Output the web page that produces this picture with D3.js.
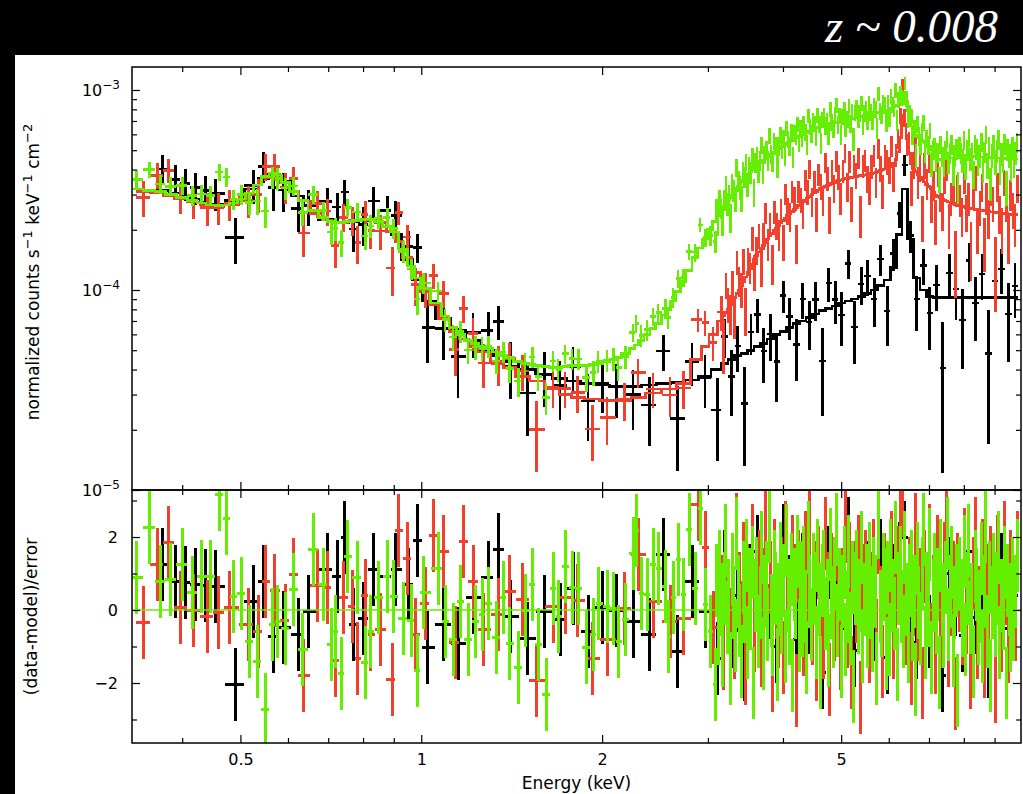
<!DOCTYPE html>
<html>
<head>
<meta charset="utf-8">
<script src="https://cdn.jsdelivr.net/npm/d3@7"></script>
<style>
  html, body { margin: 0; padding: 0; background: #000; }
  svg { display: block; }
</style>
</head>
<body>
<svg id="chart" width="1023" height="794"></svg>
<script>
// ---- Spectral data: bin centre energy (keV), model (1e-4 counts/s/keV/cm2),
// ---- residual (data-model)/error, and 1-sigma error in percent of the model.

const blackE = [
  0.3707,0.3898,0.4049,0.4207,0.4371,0.4543,0.4903,0.5254,0.5459,0.5672,
  0.5894,0.6243,0.6486,0.6976,0.7247,0.7445,0.7706,0.8007,0.8320,0.8778,
  0.9052,0.9514,0.9848,1.0233,
  1.088,1.152,1.220,1.293,1.343,1.407,1.501,1.602,1.703,1.790,
  1.896,2.001,2.111,2.253,2.396,2.528,2.667,2.824,2.968,3.109,
  3.20,3.281,3.364,3.449,3.536,3.625,3.716,3.810,3.906,4.004,
  4.105,4.209,4.315,4.424,4.535,4.650,4.767,4.887,5.010,5.137,
  5.266,5.399,5.535,5.675,5.818,5.965,6.115,6.25,6.38,6.52,
  6.68,6.85,7.02,7.20,7.38,7.57,7.76,7.96,8.16,8.37,
  8.58,8.80,9.02,9.25,9.49,9.73
];
const blackModel = [
  3.15,3.05,2.95,2.85,2.75,2.68,2.8,3.2,3.6,3.8,
  3.5,2.95,2.65,2.25,2.18,2.18,2.2,2.23,2.24,2.08,
  1.9,1.42,1.12,0.88,
  0.72,0.63,0.56,0.5,0.47,0.44,0.4,0.38,0.36,0.35,
  0.34,0.335,0.33,0.33,0.335,0.34,0.345,0.355,0.37,0.4,
  0.43,0.45,0.47,0.48,0.5,0.52,0.54,0.57,0.6,0.62,
  0.65,0.68,0.7,0.73,0.76,0.79,0.81,0.83,0.86,0.88,
  0.9,0.93,0.96,1.0,1.05,1.12,1.3,1.9,3.2,1.8,
  1.15,1.0,0.93,0.92,0.92,0.92,0.92,0.92,0.92,0.92,
  0.92,0.92,0.92,0.92,0.92,0.92
];
const blackRes = [
  1.26,0.79,0.74,0.69,0.68,0.65,-2.05,0.22,0.77,-0.72,
  -0.49,-0.68,-0.04,1.1,0.92,1.99,-0.4,-0.22,1.1,0.92,
  1.1,0.69,1.9,-1.04,
  -0.4,-0.93,0.35,0.88,1.67,-0.17,-0.79,-0.04,-0.26,0.6,
  -0.6,0.07,-0.02,-0.31,-0.68,1.52,-1.13,0.79,-0.04,-1.33,
  1.2,-0.6,0.4,-1.5,0.8,1.6,-0.3,0.2,-1.0,1.9,
  0.5,-0.8,1.1,-0.2,0.7,-1.7,1.3,0.3,-0.5,2.1,
  -1.1,0.6,0.9,-0.4,1.5,-1.3,0.8,1.4,2.0,0.2,
  -0.9,1.2,-0.6,0.5,-1.8,1.0,0.3,-0.7,1.6,-0.2,
  0.9,-1.4,0.6,1.1,-0.5,0.4
];
const blackErr = [
  22,21,21,21,21,21,17,20,20,20,
  20,20,20,21,21,21,21,21,22,22,
  22,23,24,25,
  27,28,28,29,29,30,30,30,30,30,
  30,30,30,30,30,30,30,30,29,28,
  30,30,29,29,29,28,28,28,27,27,
  27,27,26,26,26,26,26,26,26,26,
  25,25,25,25,24,23,21,19,16,19,
  24,27,29,30,31,32,33,33,33,33,
  34,34,34,35,35,35
];

const redE = [
  0.3447,0.3637,0.3793,0.3972,0.4174,0.4405,0.4595,0.4792,0.5153,0.5355,
  0.5501,0.5694,0.5939,0.6124,0.6364,0.6714,0.6976,0.7192,0.7416,0.7677,
  0.7823,0.8069,0.8225,0.8546,0.8949,0.9156,0.9478,0.9773,1.0154,
  1.047,1.088,1.139,1.175,1.220,1.268,1.343,1.401,1.473,1.554,
  1.658,1.736,1.818,1.926,2.039,2.177,2.296,2.432,2.596,2.729,
  2.890,2.968,3.061,
  3.160,3.187,3.214,3.241,3.269,3.297,3.325,3.353,3.381,3.410,
  3.439,3.468,3.498,3.527,3.557,3.588,3.618,3.649,3.680,3.711,
  3.743,3.775,3.807,3.839,3.872,3.904,3.938,3.971,4.005,4.039,
  4.073,4.108,4.143,4.178,4.213,4.249,4.285,4.322,4.358,4.395,
  4.433,4.471,4.509,4.547,4.586,4.625,4.664,4.704,4.744,4.784,
  4.825,4.866,4.907,4.949,4.991,5.033,5.076,5.119,5.163,5.207,
  5.251,5.296,5.341,5.386,5.432,5.478,5.525,5.572,5.619,5.667,
  5.714,5.763,5.812,5.861,5.911,5.961,6.012,6.063,6.115,6.167,
  6.219,6.272,6.325,6.379,6.433,6.488,6.543,6.599,6.655,6.711,
  6.768,6.826,6.884,6.942,7.001,7.061,7.121,7.181,7.242,7.304,
  7.366,7.429,7.492,7.555,7.620,7.684,7.750,7.816,7.882,7.949,
  8.016,8.085,8.153,8.223,8.293,8.363,8.434,8.506,8.578,8.651,
  8.724,8.798,8.873,8.949,9.025,9.102,9.179,9.257,9.336,9.415,
  9.495,9.576,9.657,9.739,9.822
];
const redModel = [
  3.1,3.05,2.97,2.87,2.76,2.66,2.62,2.66,3.0,3.35,
  3.65,3.8,3.45,3.1,2.78,2.42,2.24,2.18,2.18,2.2,
  2.22,2.24,2.24,2.18,1.96,1.75,1.45,1.22,0.98,
  0.84,0.72,0.62,0.57,0.52,0.49,0.44,0.41,0.37,0.35,
  0.32,0.30,0.29,0.285,0.28,0.28,0.29,0.305,0.32,0.34,
  0.45,0.52,0.6,
  0.70,0.74,0.77,0.80,0.84,0.88,0.92,0.96,1.0,1.05,
  1.1,1.16,1.22,1.28,1.35,1.42,1.49,1.55,1.61,1.67,
  1.73,1.8,1.86,1.92,1.98,2.04,2.1,2.16,2.22,2.29,
  2.35,2.41,2.47,2.53,2.59,2.65,2.7,2.76,2.82,2.88,
  2.94,3.0,3.06,3.11,3.16,3.21,3.26,3.3,3.34,3.38,
  3.41,3.45,3.48,3.52,3.55,3.57,3.6,3.62,3.64,3.66,
  3.68,3.7,3.71,3.73,3.74,3.76,3.78,3.8,3.82,3.85,
  3.88,3.91,3.95,3.99,4.03,4.07,4.12,4.2,4.32,4.5,
  4.9,5.8,7.5,6.7,5.7,4.8,4.3,4.05,3.9,3.75,
  3.65,3.55,3.46,3.38,3.3,3.2,3.08,2.98,2.93,2.88,
  2.84,2.81,2.78,2.75,2.72,2.7,2.67,2.65,2.63,2.62,
  2.6,2.58,2.57,2.56,2.54,2.53,2.52,2.51,2.5,2.49,
  2.48,2.47,2.46,2.45,2.44,2.44,2.43,2.42,2.41,2.41,
  2.4,2.39,2.38,2.38,2.37
];
const redRes = [
  -0.34,1.26,1.86,0.07,-0.02,-0.17,-0.06,0.08,-0.4,-0.6,
  0.79,0.53,-0.29,0.97,-1.8,0.68,0.63,-1.39,0.35,0.1,
  -1.32,0.4,-0.68,-0.54,-1.91,2.17,1.42,-0.68,0.17,
  2.05,1.61,-0.9,1.88,0.77,-0.54,-0.13,0.51,0.28,-1.94,
  0.1,0.33,0.26,-1.32,-0.81,0.05,1.52,0.24,-0.31,-0.22,
  2.89,1.7,-0.49,
  0.5,-1.2,1.8,0.3,-0.4,1.1,-0.9,2.2,0.6,-0.2,
  1.4,-1.6,0.8,0.1,1.9,-0.7,0.4,1.2,-1.1,0.7,
  2.4,-0.3,0.9,-1.8,1.5,0.2,-0.6,1.0,-1.3,2.0,
  0.4,-0.2,1.6,0.8,-2.2,1.2,0.3,-0.8,1.7,0.5,
  2.5,-0.5,0.9,-1.5,1.3,0.2,-0.9,2.1,0.6,-1.9,
  1.1,-0.4,1.8,0.3,-1.2,0.7,2.3,-0.6,1.4,-1.7,
  0.9,0.1,1.6,-2.4,0.8,1.2,-0.3,-1.0,0.6,1.5,
  -0.7,2.0,0.2,-1.4,1.1,0.5,-0.2,1.7,-0.9,0.4,
  1.3,2.4,3.0,0.8,-0.5,1.0,-1.6,0.3,2.2,-0.4,
  0.7,-2.0,1.2,0.1,1.9,-0.8,0.5,-1.3,1.6,0.2,
  -0.6,1.4,2.3,-1.1,0.3,0.9,-2.3,1.1,0.4,-0.5,
  1.8,-0.2,0.6,-1.7,1.0,2.1,-0.9,0.2,1.5,-1.4,
  0.8,-0.3,1.3,0.5,-2.1,1.6,0.0,-0.7,2.0,0.6,
  -1.0,1.2,0.3,-0.4,1.7
];
const redErr = [
  19,18,18,18,18,18,18,18,17,17,
  17,17,17,17,17,17,17,17,17,17,
  17,17,17,18,18,18,19,19,20,
  20,21,21,22,22,22,22,22,22,22,
  22,22,22,22,22,22,22,21,21,21,
  20,19,18,
  22,22,21,21,21,20,20,20,19,19,
  19,19,18,18,18,18,17,17,17,17,
  17,17,16,16,16,16,16,16,16,16,
  16,16,16,16,15,15,15,15,15,15,
  15,15,15,15,15,15,15,15,15,15,
  15,15,15,15,15,15,15,15,15,15,
  15,15,15,15,15,15,15,15,15,15,
  15,15,15,15,15,15,15,15,15,14,
  13,12,13,11,12,14,15,16,16,17,
  17,17,18,18,18,18,19,19,19,19,
  19,20,20,20,20,20,20,20,20,20,
  20,20,21,21,21,21,21,21,21,21,
  21,21,22,22,22,22,22,22,22,22,
  22,22,22,22,22
];

const greenE = [
  0.3356,0.3527,0.3679,0.3824,0.4003,0.4159,0.4304,0.4455,0.4612,0.4737,
  0.4865,0.5017,0.5173,0.5335,0.5501,0.5650,0.5759,0.5939,0.6124,0.6339,
  0.6612,0.6869,0.7082,0.7192,0.7359,0.7530,0.7823,0.8069,0.8225,0.8481,
  0.8778,0.8983,0.9333,0.9624,0.9848,1.0077,
  1.067,1.096,1.130,1.161,1.197,1.230,1.263,1.293,1.333,1.369,
  1.401,1.450,1.489,1.530,1.565,1.614,1.658,1.690,1.736,1.783,
  1.825,1.882,1.933,1.970,2.039,2.087,2.127,2.185,2.253,2.279,
  2.323,2.377,2.432,2.479,2.547,2.576,2.626,2.676,2.729,2.792,
  2.857,2.912,2.969,3.027,3.085,
  3.100,3.119,3.137,3.156,3.175,3.194,3.213,3.232,3.252,3.271,
  3.291,3.311,3.331,3.351,3.371,3.391,3.411,3.432,3.452,3.473,
  3.493,3.514,3.535,3.556,3.578,3.599,3.621,3.642,3.664,3.686,
  3.708,3.730,3.753,3.775,3.798,3.821,3.843,3.866,3.890,3.913,
  3.936,3.960,3.984,4.008,4.032,4.056,4.080,4.105,4.129,4.154,
  4.178,4.203,4.229,4.254,4.279,4.305,4.331,4.357,4.383,4.409,
  4.435,4.462,4.489,4.516,4.543,4.570,4.597,4.625,4.653,4.681,
  4.708,4.737,4.765,4.794,4.822,4.851,4.880,4.910,4.939,4.969,
  4.998,5.028,5.058,5.089,5.119,5.150,5.181,5.212,5.243,5.274,
  5.305,5.337,5.369,5.401,5.434,5.466,5.499,5.532,5.565,5.598,
  5.632,5.666,5.700,5.734,5.768,5.803,5.838,5.873,5.908,5.944,
  5.978,6.014,6.050,6.086,6.123,6.160,6.197,6.234,6.271,6.309,
  6.346,6.384,6.422,6.461,6.500,6.539,6.578,6.617,6.657,6.697,
  6.736,6.777,6.817,6.858,6.899,6.941,6.982,7.024,7.066,7.109,
  7.151,7.194,7.237,7.280,7.324,7.368,7.412,7.457,7.501,7.546,
  7.591,7.636,7.682,7.728,7.775,7.821,7.868,7.915,7.963,8.011,
  8.058,8.106,8.155,8.204,8.253,8.303,8.352,8.402,8.453,8.503,
  8.553,8.605,8.656,8.708,8.760,8.813,8.866,8.919,8.972,9.026,
  9.080,9.134,9.189,9.244,9.300,9.355,9.412,9.468,9.525,9.582,
  9.638,9.696,9.754,9.813
];
const greenModel = [
  3.2,3.15,3.1,3.0,2.9,2.8,2.72,2.66,2.64,2.66,
  2.72,2.85,3.05,3.35,3.7,3.85,3.75,3.45,3.1,2.8,
  2.5,2.3,2.2,2.18,2.18,2.2,2.22,2.25,2.25,2.2,
  2.08,1.95,1.6,1.32,1.15,1.02,
  0.86,0.74,0.65,0.6,0.56,0.54,0.52,0.51,0.49,0.47,
  0.46,0.44,0.43,0.425,0.42,0.415,0.41,0.41,0.415,0.42,
  0.42,0.42,0.425,0.43,0.44,0.45,0.46,0.48,0.51,0.53,
  0.56,0.6,0.64,0.68,0.75,0.8,0.88,0.98,1.1,1.25,
  1.45,1.62,1.8,2.0,2.2,
  2.28,2.35,2.41,2.48,2.55,2.62,2.69,2.77,2.84,2.91,
  2.99,3.07,3.15,3.23,3.31,3.39,3.46,3.54,3.62,3.70,
  3.77,3.85,3.92,4.00,4.07,4.13,4.19,4.26,4.33,4.39,
  4.45,4.51,4.58,4.64,4.71,4.78,4.84,4.90,4.97,5.03,
  5.09,5.15,5.21,5.27,5.33,5.40,5.46,5.52,5.58,5.64,
  5.69,5.75,5.81,5.87,5.92,5.97,6.02,6.08,6.14,6.2,
  6.25,6.31,6.36,6.41,6.46,6.5,6.54,6.58,6.61,6.65,
  6.69,6.72,6.75,6.78,6.81,6.84,6.87,6.89,6.92,6.95,
  6.98,7.01,7.04,7.07,7.1,7.13,7.16,7.19,7.22,7.25,
  7.28,7.31,7.35,7.38,7.41,7.44,7.47,7.51,7.54,7.57,
  7.6,7.63,7.66,7.69,7.72,7.76,7.79,7.83,7.86,7.9,
  7.95,8.0,8.06,8.13,8.22,8.3,8.36,8.45,8.7,9.1,
  9.6,9.5,8.8,7.9,7.1,6.6,6.3,6.1,5.95,5.85,
  5.75,5.68,5.6,5.52,5.45,5.37,5.3,5.2,5.05,4.8,
  4.6,4.52,4.5,4.5,4.51,4.51,4.52,4.53,4.54,4.55,
  4.56,4.57,4.58,4.59,4.6,4.61,4.62,4.62,4.63,4.64,
  4.64,4.65,4.65,4.65,4.65,4.65,4.64,4.64,4.64,4.63,
  4.63,4.62,4.62,4.61,4.61,4.6,4.6,4.59,4.59,4.58,
  4.58,4.57,4.57,4.56,4.56,4.55,4.55,4.54,4.54,4.53,
  4.53,4.52,4.52,4.51
];
const greenRes = [
  0.9,2.26,0.79,0.83,1.26,0.48,0.92,0.92,3.16,2.52,
  0.37,0.44,-0.86,-1.41,-2.73,-0.4,-0.31,-0.52,0.56,-1.09,
  1.65,0.69,-0.95,-0.6,-1.75,1.47,0.9,-1.45,-0.58,0.33,
  0.92,0.37,-0.22,-0.29,-1.66,0.47,
  1.15,-0.31,-0.81,0.24,-0.81,-0.31,-0.13,0.19,-0.75,0.33,
  -0.93,-1.57,0,0.69,-0.95,-2.32,0.6,-0.17,1.2,0.62,
  0.58,-1.02,-0.68,0.19,0.1,0.04,-0.86,-0.26,1.56,2.17,
  0.44,0.42,1.24,1.15,0.65,-0.72,0.33,1.38,0.42,2.2,
  0.6,2.79,0.15,-0.58,-2.05,
  0.8,-0.5,1.2,0.3,-1.1,0.6,1.9,-0.2,0.4,-1.6,
  1.1,0.2,-0.7,2.1,0.5,-0.3,-1.4,0.9,0.1,1.5,
  -0.9,0.7,-0.1,1.3,-2.0,0.4,1.0,-0.6,0.2,1.7,
  -1.2,0.5,0.9,-0.4,2.3,0.0,-0.8,1.2,0.6,-1.5,
  0.3,1.4,-0.2,0.8,-1.0,1.9,0.4,-0.5,1.1,-1.8,
  0.7,0.2,1.6,-0.7,0.9,-0.3,1.3,0.1,-1.3,2.0,
  0.5,-0.4,1.1,0.6,-0.9,1.5,0.3,-1.7,0.8,1.2,
  -0.1,0.4,-1.1,1.8,0.2,-0.6,1.0,2.2,-0.3,0.7,
  -1.4,0.5,1.3,-0.8,0.1,1.6,-0.5,0.9,-2.1,0.6,
  1.2,-0.2,0.4,1.7,-1.0,0.3,0.8,-0.6,1.4,0.2,
  -0.7,1.0,0.5,-1.6,2.4,0.1,-0.3,1.1,0.7,-1.2,
  0.9,-0.8,1.5,0.4,-0.1,2.0,-1.5,0.6,1.3,0.1,
  -0.6,1.7,0.3,-1.0,0.8,1.2,-0.4,0.5,-1.9,1.4,
  0.2,-0.5,1.0,2.2,-0.9,0.6,0.0,1.8,-1.3,0.4,
  1.1,-0.2,0.7,-1.7,1.5,0.3,-0.6,0.9,2.1,-0.4,
  0.5,1.3,-1.1,0.2,0.8,-2.2,1.0,0.4,-0.3,1.6,
  -0.8,0.6,1.9,-0.2,0.3,-1.4,1.2,0.7,-0.5,0.1,
  1.4,-1.0,0.5,2.3,-0.6,0.9,-1.8,0.2,1.1,-0.3,
  0.6,1.7,-0.9,0.4,-0.1,1.3,-2.0,0.8,0.3,-0.7,
  1.0,-0.4,0.5,1.5
];
const greenErr = [
  13,12,12,12,12,12,12,13,15,15,
  12,12,12,12,12,12,12,12,12,12,
  12,12,12,12,12,12,12,12,12,12,
  12,12,12,12,13,13,
  13,13,13,13,13,13,13,13,13,13,
  13,13,13,13,13,13,13,13,13,13,
  13,13,13,13,13,13,13,13,13,13,
  13,13,12,12,12,12,12,12,11,11,
  11,11,11,11,10,
  14,14,14,13,13,13,13,13,13,13,
  13,13,13,13,13,13,12,12,12,12,
  12,12,12,12,12,12,12,12,12,12,
  11,11,11,11,11,11,11,11,11,11,
  11,11,11,11,11,10,10,10,10,10,
  10,10,10,10,10,10,10,10,10,10,
  10,10,10,10,10,10,10,10,10,10,
  10,10,10,10,10,10,10,10,10,10,
  10,10,10,10,10,10,10,10,10,10,
  10,10,10,10,10,10,10,10,10,10,
  10,10,10,10,10,10,10,10,10,10,
  10,10,10,10,10,10,10,10,9,9,
  8,8,9,9,10,10,11,11,11,11,
  11,11,11,11,11,11,11,11,12,12,
  12,12,12,12,12,12,12,12,12,12,
  13,13,13,13,13,13,13,13,13,13,
  13,13,13,13,13,13,13,13,13,13,
  13,13,13,13,14,14,14,14,14,14,
  14,14,14,14,14,14,14,14,14,14,
  14,14,14,14
];

// ---- Axis ticks
const xMajorTicks = [0.5, 1, 2, 5];
const xMinorTicks = [0.4, 0.6, 0.7, 0.8, 0.9, 3, 4, 6, 7, 8, 9];
const yTopMajorTicks = [1e-5, 1e-4, 1e-3];
const yTopExponents = ["−5", "−4", "−3"];
const yTopMinorTicks = [2,3,4,5,6,7,8,9].flatMap(m => [m * 1e-5, m * 1e-4]);
const yResMajorTicks = [-2, 0, 2];
const yResMinorTicks = [-3, -1, 1, 3];

// ---- Layout
const W = 1023, H = 794;
const L = 132, R = 1021, T = 67, MID = 490, B = 743;

const svg = d3.select("#chart");
svg.append("rect").attr("width", W).attr("height", H).attr("fill", "#000");
svg.append("rect").attr("x", 15).attr("y", 55).attr("width", W - 15).attr("height", H - 55).attr("fill", "#fff");

svg.append("text")
  .attr("x", 998).attr("y", 42)
  .attr("text-anchor", "end")
  .attr("fill", "#fff")
  .attr("font-family", "'Liberation Serif', 'Times New Roman', serif")
  .attr("font-style", "italic")
  .attr("font-size", 47)
  .text("z ~ 0.008");

const x = d3.scaleLog().domain([0.33, 9.96]).range([L, R]);
const yTop = d3.scaleLog().domain([1e-5, 1.303e-3]).range([MID, T]);
const yRes = d3.scaleLinear().domain([-3.644, 3.288]).range([B, MID]);

const defs = svg.append("defs");
defs.append("clipPath").attr("id", "clipTop")
  .append("rect").attr("x", L).attr("y", T).attr("width", R - L).attr("height", MID - T);
defs.append("clipPath").attr("id", "clipRes")
  .append("rect").attr("x", L).attr("y", MID).attr("width", R - L).attr("height", B - MID);

function buildSeries(E, model, res, err) {
  const n = Math.min(E.length, model.length, res.length, err.length);
  const pts = [];
  for (let i = 0; i < n; i++) {
    const lo = i > 0 ? Math.sqrt(E[i - 1] * E[i]) : E[i] * E[i] / Math.sqrt(E[i] * E[i + 1]);
    const hi = i < n - 1 ? Math.sqrt(E[i] * E[i + 1]) : E[i] * E[i] / Math.sqrt(E[i - 1] * E[i]);
    const m = model[i] * 1e-4;
    const s = m * err[i] / 100;
    pts.push({ e: E[i], lo, hi, m, s, r: res[i], v: m + res[i] * s });
  }
  return pts;
}

const groups = [
  { color: "#000000", pts: buildSeries(blackE, blackModel, blackRes, blackErr) },
  { color: "#f2402c", pts: buildSeries(redE, redModel, redRes, redErr) },
  { color: "#66ee00", pts: buildSeries(greenE, greenModel, greenRes, greenErr) }
];

const gTop = svg.append("g").attr("clip-path", "url(#clipTop)");
const gRes = svg.append("g").attr("clip-path", "url(#clipRes)");
const stepLine = d3.line().x(q => x(q[0])).y(q => yTop(q[1]));

groups.forEach(g => {
  // spectrum crosses
  const p = d3.path();
  g.pts.forEach(d => {
    const yc = yTop(Math.max(d.v, 1e-7));
    p.moveTo(x(d.lo), yc); p.lineTo(x(d.hi), yc);
    p.moveTo(x(d.e), yTop(Math.max(d.v - d.s, 1e-7))); p.lineTo(x(d.e), yTop(d.v + d.s));
  });
  gTop.append("path").attr("d", p.toString())
    .attr("fill", "none").attr("stroke", g.color).attr("stroke-width", 2.6)
    .attr("shape-rendering", "crispEdges");
  // folded model as a histogram
  const steps = g.pts.flatMap(d => [[d.lo, d.m], [d.hi, d.m]]);
  gTop.append("path").attr("d", stepLine(steps))
    .attr("fill", "none").attr("stroke", g.color).attr("stroke-width", 2.6)
    .attr("shape-rendering", "crispEdges");

  // residual crosses
  const q = d3.path();
  g.pts.forEach(d => {
    const yc = yRes(d.r);
    q.moveTo(x(d.lo), yc); q.lineTo(x(d.hi), yc);
    q.moveTo(x(d.e), yRes(d.r - 1)); q.lineTo(x(d.e), yRes(d.r + 1));
  });
  gRes.append("path").attr("d", q.toString())
    .attr("fill", "none").attr("stroke", g.color).attr("stroke-width", 3)
    .attr("shape-rendering", "crispEdges");
});

// zero line in the residual panel
svg.append("line")
  .attr("x1", L).attr("x2", R).attr("y1", yRes(0)).attr("y2", yRes(0))
  .attr("stroke", "#66ee00").attr("stroke-width", 1.5);

// ---- Frames
[[T, MID], [MID, B]].forEach(([y0, y1]) => {
  svg.append("rect").attr("x", L).attr("y", y0).attr("width", R - L).attr("height", y1 - y0)
    .attr("fill", "none").attr("stroke", "#000").attr("stroke-width", 1.5);
});

// ---- Ticks
function addAxis(axis, tx, ty) {
  const g = svg.append("g").attr("transform", `translate(${tx},${ty})`).call(axis);
  g.select(".domain").remove();
  g.selectAll(".tick line").attr("stroke", "#000").attr("stroke-width", 1.2);
  return g;
}
const noLabel = () => "";
const tickFont = "'DejaVu Sans', 'Liberation Sans', sans-serif";

// x ticks on every horizontal edge, pointing into the panels
addAxis(d3.axisTop(x).tickValues(xMajorTicks).tickSize(-8).tickFormat(noLabel), 0, T);
addAxis(d3.axisTop(x).tickValues(xMinorTicks).tickSize(-5).tickFormat(noLabel), 0, T);
addAxis(d3.axisBottom(x).tickValues(xMajorTicks).tickSize(-8).tickFormat(noLabel), 0, MID);
addAxis(d3.axisBottom(x).tickValues(xMinorTicks).tickSize(-5).tickFormat(noLabel), 0, MID);
addAxis(d3.axisTop(x).tickValues(xMajorTicks).tickSize(-8).tickFormat(noLabel), 0, MID);
addAxis(d3.axisTop(x).tickValues(xMinorTicks).tickSize(-5).tickFormat(noLabel), 0, MID);
addAxis(d3.axisBottom(x).tickValues(xMinorTicks).tickSize(-5).tickFormat(noLabel), 0, B);
const xLab = addAxis(d3.axisBottom(x).tickValues(xMajorTicks).tickSize(-8).tickPadding(11)
  .tickFormat(d => String(d)), 0, B);
xLab.selectAll("text").attr("font-family", tickFont).attr("font-size", 16).attr("fill", "#000");

// top panel y ticks
addAxis(d3.axisLeft(yTop).tickValues(yTopMajorTicks).tickSize(-8).tickFormat(noLabel), L, 0);
addAxis(d3.axisLeft(yTop).tickValues(yTopMinorTicks).tickSize(-5).tickFormat(noLabel), L, 0);
addAxis(d3.axisRight(yTop).tickValues(yTopMajorTicks).tickSize(-8).tickFormat(noLabel), R, 0);
addAxis(d3.axisRight(yTop).tickValues(yTopMinorTicks).tickSize(-5).tickFormat(noLabel), R, 0);

yTopMajorTicks.forEach((v, i) => {
  const t = svg.append("text")
    .attr("x", 120).attr("y", yTop(v) + 6)
    .attr("text-anchor", "end")
    .attr("font-family", tickFont).attr("font-size", 16).attr("fill", "#000");
  t.append("tspan").text("10");
  t.append("tspan").attr("dy", -7).attr("font-size", 12).text(yTopExponents[i]);
});

// residual panel y ticks
const yResLab = addAxis(d3.axisLeft(yRes).tickValues(yResMajorTicks).tickSize(-8).tickPadding(14)
  .tickFormat(d => d < 0 ? "−" + Math.abs(d) : String(d)), L, 0);
yResLab.selectAll("text").attr("font-family", tickFont).attr("font-size", 16).attr("fill", "#000");
addAxis(d3.axisLeft(yRes).tickValues(yResMinorTicks).tickSize(-5).tickFormat(noLabel), L, 0);
addAxis(d3.axisRight(yRes).tickValues(yResMajorTicks).tickSize(-8).tickFormat(noLabel), R, 0);
addAxis(d3.axisRight(yRes).tickValues(yResMinorTicks).tickSize(-5).tickFormat(noLabel), R, 0);

// ---- Axis titles
svg.append("text")
  .attr("x", (L + R) / 2).attr("y", 789)
  .attr("text-anchor", "middle")
  .attr("font-family", tickFont).attr("font-size", 17).attr("fill", "#000")
  .text("Energy (keV)");

const yl = svg.append("text")
  .attr("transform", "translate(39,272) rotate(-90)")
  .attr("text-anchor", "middle")
  .attr("font-family", tickFont).attr("font-size", 17).attr("fill", "#000");
[["normalized counts s", 0], ["−1", 1], [" keV", 0], ["−1", 1], [" cm", 0], ["−2", 1]].forEach(([s, sup], i) => {
  const ts = yl.append("tspan").text(s);
  if (sup) ts.attr("dy", -7).attr("font-size", 13);
  else if (i > 0) ts.attr("dy", 7);
});

svg.append("text")
  .attr("transform", `translate(37,${(MID + B) / 2}) rotate(-90)`)
  .attr("text-anchor", "middle")
  .attr("font-family", tickFont).attr("font-size", 17).attr("fill", "#000")
  .text("(data-model)/error");
</script>
</body>
</html>
